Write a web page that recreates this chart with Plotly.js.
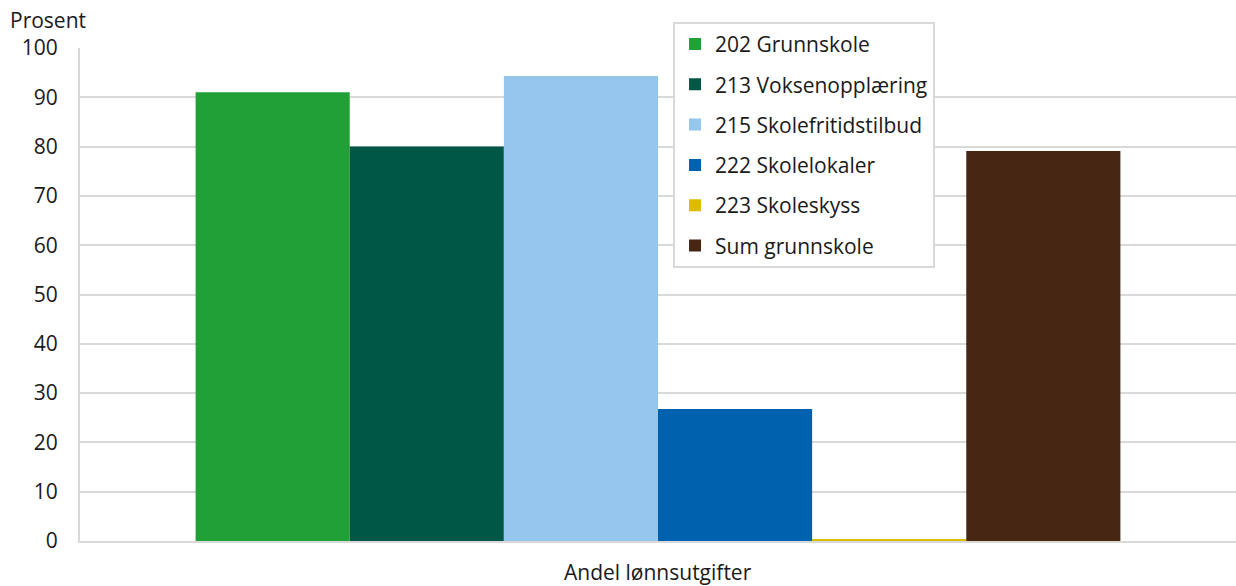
<!DOCTYPE html>
<html>
<head>
<meta charset="utf-8">
<script src="https://cdn.plot.ly/plotly-3.0.1.min.js"></script>
<style>html,body{margin:0;padding:0;background:#fff;}#chart{width:1236px;height:586px;}</style>
</head>
<body>
<div id="chart"></div>
<script>
const category = ["Andel lønnsutgifter"];
const seriesNames = ["202 Grunnskole", "213 Voksenopplæring", "215 Skolefritidstilbud", "222 Skolelokaler", "223 Skoleskyss", "Sum grunnskole"];
const seriesValues = [91.0, 80.0, 94.3, 26.8, 0.4, 79.1];
const seriesColors = ["#21a038", "#005745", "#95c6ec", "#0062ae", "#dcbc00", "#472714"];
const yTicks = [0, 10, 20, 30, 40, 50, 60, 70, 80, 90, 100];

const traces = seriesNames.map((n, i) => ({
  type: "bar",
  name: n,
  x: category,
  y: [seriesValues[i]],
  marker: {color: seriesColors[i]},
  legendgroup: "g" + i,
  hoverinfo: "y+name"
}));

const layout = {
  width: 1236, height: 586,
  margin: {l: 80, r: 0, t: 48, b: 45},
  paper_bgcolor: "#fff", plot_bgcolor: "#fff",
  font: {family: "Open Sans, sans-serif", size: 21, color: "#1a1a1a"},
  barmode: "group",
  bargap: 0.2,
  bargroupgap: 0,
  xaxis: {
    showgrid: false,
    showline: true, linecolor: "#d9d9d9", linewidth: 2,
    ticks: "", showticklabels: false,
    automargin: false
  },
  yaxis: {
    range: [0, 100],
    tickvals: yTicks,
    showgrid: true, gridcolor: "#d9d9d9", gridwidth: 2,
    showline: true, linecolor: "#d9d9d9", linewidth: 2,
    zeroline: false,
    ticks: "", ticklabelstandoff: 16,
    automargin: false
  },
  legend: {
    x: 0.513, y: 1.053, xanchor: "left", yanchor: "top",
    bordercolor: "#d9d9d9", borderwidth: 2,
    bgcolor: "#fff",
    traceorder: "grouped",
    tracegroupgap: 10,
    font: {size: 21}
  },
  annotations: [{
    text: "Prosent", xref: "paper", yref: "paper",
    x: -0.062, y: 1.0, xanchor: "left", yanchor: "middle",
    yshift: 28, showarrow: false, font: {size: 21}
  }, {
    text: category[0], xref: "paper", yref: "paper",
    x: 0.5, y: 0, xanchor: "center", yanchor: "middle",
    yshift: -31, showarrow: false, font: {size: 21}
  }]
};

Plotly.newPlot("chart", traces, layout, {displayModeBar: false, staticPlot: true});
</script>
</body>
</html>
